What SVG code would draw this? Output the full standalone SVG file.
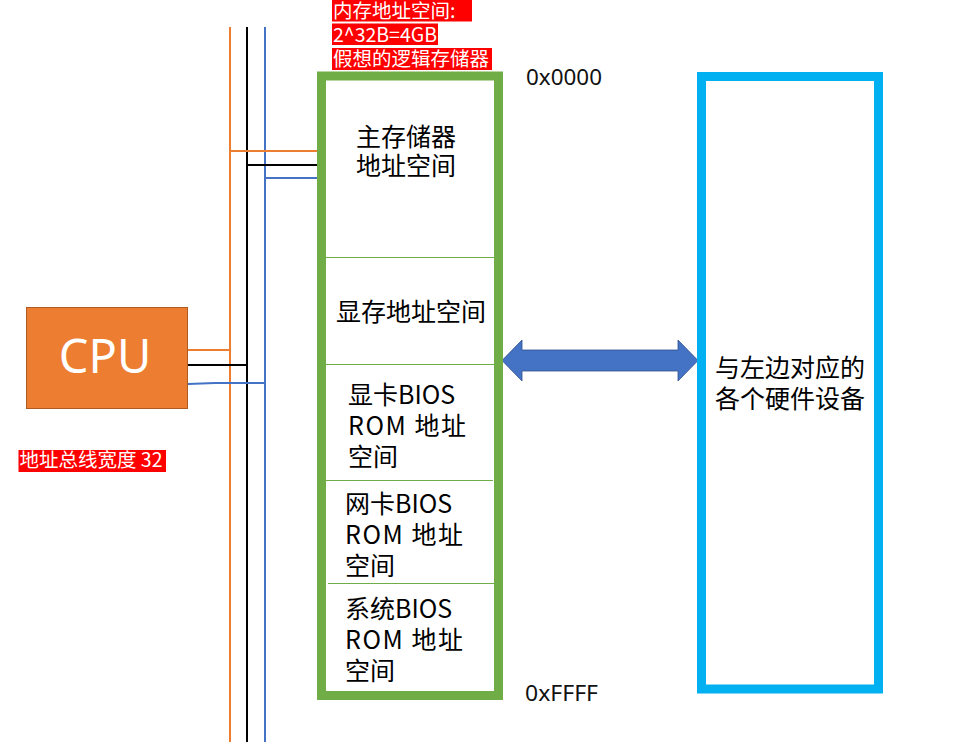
<svg xmlns="http://www.w3.org/2000/svg" width="969" height="753" viewBox="0 0 969 753">
<style>
.cjk{font-family:"Noto Sans CJK SC","Noto Sans",sans-serif;}
.mem{font-size:25px;fill:#000;}
.tag{font-size:19.5px;fill:#fff;}
.tagbg{fill:#ff0000;}
.div{stroke:#70AD47;stroke-width:1.2;}
.addr{font-family:"Noto Sans","Open Sans",sans-serif;font-size:22px;fill:#111;}
.bus{fill:none;stroke-width:2;}
.o{stroke:#ED7D31;}
.k{stroke:#000;}
.b{stroke:#4472C4;}
</style>
<rect width="969" height="753" fill="#fff"/>

<g id="connectors">
  <line class="bus o" x1="230" y1="27" x2="230" y2="742"/>
  <line class="bus k" x1="247" y1="27" x2="247" y2="742"/>
  <line class="bus b" x1="265" y1="27" x2="265" y2="742"/>
  <line class="bus o" x1="229" y1="151" x2="322" y2="151"/>
  <line class="bus k" x1="247" y1="165" x2="322" y2="165"/>
  <line class="bus b" x1="265" y1="178" x2="322" y2="178"/>
  <line class="bus o" x1="188" y1="350" x2="231" y2="350"/>
  <line class="bus k" x1="188" y1="365" x2="248" y2="365"/>
  <polyline class="bus b" points="188,384 215,383 266,383"/>
  <polygon id="arrow" points="502,360.5 522,340 522,350 678,350 678,340 698,360.5 678,381 678,371 522,371 522,381" fill="#4472C4" stroke="#2F528F" stroke-width="0.8"/>
</g>

<g id="cpu">
  <rect x="26.5" y="307.5" width="161" height="101" fill="#ED7D31" stroke="#AE5A21" stroke-width="1"/>
  <text x="105" y="373" text-anchor="middle" font-family="'Noto Sans','Open Sans',sans-serif" font-size="47" fill="#fff">CPU</text>
</g>

<g id="bus-label">
  <rect class="tagbg" x="18.5" y="450" width="147.5" height="22"/>
  <text class="cjk tag" x="19.5" y="467">地址总线宽度 32</text>
</g>

<g id="memory-label">
  <rect class="tagbg" x="332" y="0" width="140" height="21.5"/>
  <rect class="tagbg" x="332" y="23.5" width="106" height="21.5"/>
  <rect class="tagbg" x="332" y="48" width="160" height="22"/>
  <text class="cjk tag" x="333" y="17.5">内存地址空间:</text>
  <text class="cjk tag" x="333" y="42">2^32B=4GB</text>
  <text class="cjk tag" x="333" y="65.5">假想的逻辑存储器</text>
</g>

<g id="memory">
  <rect x="321.5" y="76" width="177" height="619.5" fill="#fff" stroke="#70AD47" stroke-width="9"/>
  <line class="div" x1="326" y1="257.5" x2="494" y2="257.5"/>
  <line class="div" x1="326" y1="364.5" x2="494" y2="364.5"/>
  <line class="div" x1="326" y1="480.5" x2="493" y2="480.5"/>
  <line class="div" x1="328" y1="583.5" x2="494" y2="583.5"/>
  <text class="cjk mem" x="356" y="146">主存储器</text>
  <text class="cjk mem" x="356" y="175">地址空间</text>
  <text class="cjk mem" x="336" y="321">显存地址空间</text>
  <text class="cjk mem" x="348" y="404">显卡BIOS</text>
  <text class="cjk mem" x="348" y="435" textLength="118" lengthAdjust="spacing">ROM 地址</text>
  <text class="cjk mem" x="348" y="466">空间</text>
  <text class="cjk mem" x="345" y="513">网卡BIOS</text>
  <text class="cjk mem" x="345" y="544" textLength="118" lengthAdjust="spacing">ROM 地址</text>
  <text class="cjk mem" x="345" y="575">空间</text>
  <text class="cjk mem" x="345" y="618">系统BIOS</text>
  <text class="cjk mem" x="345" y="649" textLength="118" lengthAdjust="spacing">ROM 地址</text>
  <text class="cjk mem" x="345" y="680">空间</text>
</g>

<g id="addresses">
  <text class="addr" x="526" y="85" textLength="76" lengthAdjust="spacingAndGlyphs">0x0000</text>
  <text class="addr" x="525" y="701" textLength="73" lengthAdjust="spacingAndGlyphs">0xFFFF</text>
</g>

<g id="devices">
  <rect x="701.5" y="76.5" width="177" height="612.5" fill="#fff" stroke="#00B0F0" stroke-width="9"/>
  <text class="cjk mem" x="715" y="377">与左边对应的</text>
  <text class="cjk mem" x="715" y="408">各个硬件设备</text>
</g>
</svg>
